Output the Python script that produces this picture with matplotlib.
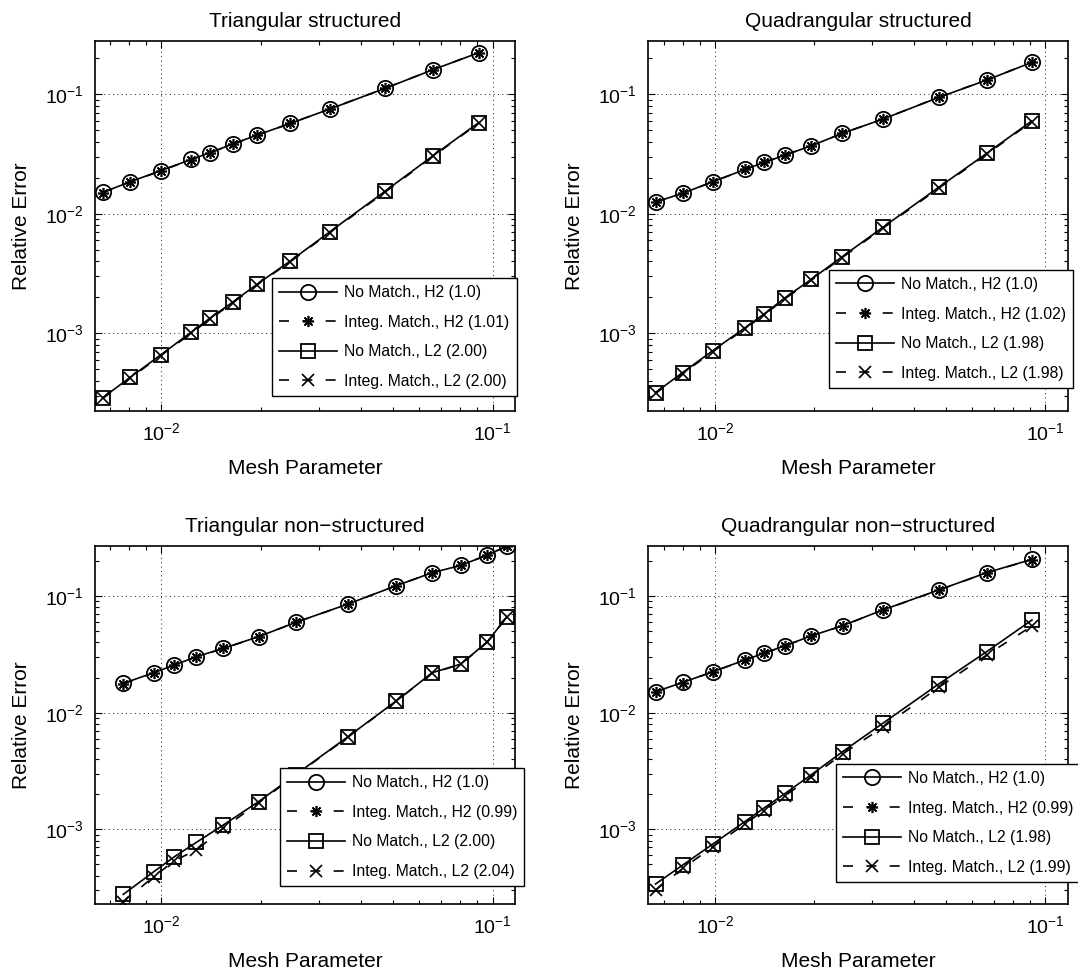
import numpy as np
import matplotlib
matplotlib.use('Agg')
import matplotlib.pyplot as plt

plt.rcParams['font.family'] = ['Liberation Sans', 'DejaVu Sans']
plt.rcParams['mathtext.fontset'] = 'custom'
plt.rcParams['mathtext.rm'] = 'Liberation Sans'

# ---- data (log-log convergence plots) ----
# triangular structured
h_tri_s = [0.00666, 0.00806, 0.00995, 0.0123, 0.0140, 0.0164, 0.0195, 0.0245,
           0.0322, 0.0473, 0.0661, 0.0907]
tri_s_h2_nm = [0.0151, 0.0185, 0.0229, 0.0284, 0.0323, 0.0382, 0.0455, 0.0569,
               0.0749, 0.1115, 0.160, 0.2215]
tri_s_h2_im = [0.0150, 0.0184, 0.0228, 0.0283, 0.0322, 0.0381, 0.0454, 0.0568,
               0.0750, 0.1117, 0.160, 0.2220]
tri_s_l2_nm = [2.90e-4, 4.29e-4, 6.59e-4, 1.02e-3, 1.334e-3, 1.816e-3, 2.584e-3,
               4.02e-3, 7.03e-3, 0.01537, 0.03053, 0.0576]
tri_s_l2_im = [2.86e-4, 4.22e-4, 6.50e-4, 1.00e-3, 1.31e-3, 1.79e-3, 2.55e-3,
               3.96e-3, 6.93e-3, 0.0151, 0.0301, 0.0570]

# quadrangular structured
h_quad_s = [0.00661, 0.00798, 0.00986, 0.01235, 0.01410, 0.01633, 0.01960,
            0.02430, 0.03228, 0.04763, 0.06657, 0.0911]
quad_s_h2_nm = [0.01252, 0.01479, 0.01851, 0.02347, 0.02685, 0.03093, 0.0370,
                0.04691, 0.06181, 0.09378, 0.1309, 0.1840]
quad_s_h2_im = [0.01250, 0.01476, 0.01849, 0.02345, 0.02684, 0.03092, 0.0370,
                0.04693, 0.06185, 0.09390, 0.1311, 0.1845]
quad_s_l2_nm = [3.19e-4, 4.69e-4, 7.16e-4, 1.115e-3, 1.451e-3, 1.986e-3, 2.827e-3,
                4.37e-3, 7.69e-3, 0.0166, 0.03193, 0.05949]
quad_s_l2_im = [3.14e-4, 4.60e-4, 7.02e-4, 1.095e-3, 1.425e-3, 1.950e-3, 2.775e-3,
                4.29e-3, 7.55e-3, 0.0163, 0.03140, 0.05860]

# triangular non-structured
h_tri_u = [0.00767, 0.00949, 0.01095, 0.01276, 0.01538, 0.01964, 0.02542, 0.0366,
           0.05117, 0.06577, 0.08022, 0.09647, 0.1106]
tri_u_h2_nm = [0.01784, 0.02203, 0.02562, 0.0302, 0.0356, 0.0448, 0.0594, 0.0854,
               0.1226, 0.1585, 0.1832, 0.2246, 0.2683]
tri_u_h2_im = [0.01770, 0.02190, 0.02550, 0.0301, 0.0355, 0.0447, 0.0593, 0.0853,
               0.1225, 0.1584, 0.1830, 0.2244, 0.2680]
tri_u_l2_nm = [2.77e-4, 4.34e-4, 5.83e-4, 7.74e-4, 1.089e-3, 1.726e-3, 2.94e-3,
               6.23e-3, 0.01259, 0.02203, 0.0261, 0.0406, 0.0665]
tri_u_l2_im = [2.40e-4, 3.93e-4, 5.39e-4, 6.65e-4, 1.02e-3, 1.69e-3, 2.90e-3,
               6.18e-3, 0.01252, 0.0219, 0.0260, 0.0404, 0.0662]

# quadrangular non-structured
h_quad_u = [0.00661, 0.00800, 0.00986, 0.01232, 0.01405, 0.01633, 0.01954,
            0.02436, 0.03224, 0.04763, 0.06657, 0.0913]
quad_u_h2_nm = [0.01513, 0.0182, 0.02246, 0.02828, 0.03226, 0.03753, 0.04542,
                0.0557, 0.0759, 0.1126, 0.1585, 0.2062]
quad_u_h2_im = [0.01508, 0.0181, 0.02240, 0.02822, 0.03220, 0.03745, 0.04535,
                0.0556, 0.0757, 0.1123, 0.1580, 0.2055]
quad_u_l2_nm = [3.40e-4, 4.95e-4, 7.49e-4, 1.163e-3, 1.514e-3, 2.035e-3, 2.922e-3,
                4.63e-3, 8.10e-3, 0.0176, 0.03334, 0.06227]
quad_u_l2_im = [3.02e-4, 4.63e-4, 7.10e-4, 1.111e-3, 1.445e-3, 1.944e-3, 2.791e-3,
                4.42e-3, 7.49e-3, 0.01649, 0.0312, 0.05533]

labels_tri_s = ['No Match., H2 (1.0)', 'Integ. Match., H2 (1.01)',
                'No Match., L2 (2.00)', 'Integ. Match., L2 (2.00)']
labels_quad_s = ['No Match., H2 (1.0)', 'Integ. Match., H2 (1.02)',
                 'No Match., L2 (1.98)', 'Integ. Match., L2 (1.98)']
labels_tri_u = ['No Match., H2 (1.0)', 'Integ. Match., H2 (0.99)',
                'No Match., L2 (2.00)', 'Integ. Match., L2 (2.04)']
labels_quad_u = ['No Match., H2 (1.0)', 'Integ. Match., H2 (0.99)',
                 'No Match., L2 (1.98)', 'Integ. Match., L2 (1.99)']

W, H = 1078, 975
fig = plt.figure(figsize=(W / 100, H / 100), dpi=100)

DASH = (0, (6.0, 8.0))
LW = 1.2


def panel(rect_px, h, h2_nm, h2_im, l2_nm, l2_im, labels, title, xlim, ylim, leg_xy):
    # rect_px = left, top, right, bottom in pixels
    l, t, r, b = rect_px
    ax = fig.add_axes([l / W, 1 - b / H, (r - l) / W, (b - t) / H])
    ax.plot(h, h2_nm, '-', color='k', lw=LW, marker='o', ms=11, mfc='none',
            mew=1.3, label=labels[0])
    ax.plot(h, h2_im, color='k', lw=LW, ls=DASH, marker=(8, 2, 0), ms=8,
            mew=1.2, label=labels[1])
    ax.plot(h, l2_nm, '-', color='k', lw=LW, marker='s', ms=9.5, mfc='none',
            mew=1.3, label=labels[2])
    ax.plot(h, l2_im, color='k', lw=LW, ls=DASH, marker='x', ms=8,
            mew=1.2, label=labels[3])
    ax.set_xscale('log')
    ax.set_yscale('log')
    ax.set_xlim(*xlim)
    ax.set_ylim(*ylim)
    ax.grid(True, which='major', color='0.1', lw=0.7, ls=(0, (1, 3.5)))
    ax.tick_params(which='both', direction='in', top=True, right=True,
                   width=0.8, labelsize=14, pad=8)
    ax.tick_params(which='major', length=5)
    ax.tick_params(which='minor', length=3)
    for s in ax.spines.values():
        s.set_linewidth(1.2)
    ax.set_title(title, fontsize=15, pad=10)
    ax.set_xlabel('Mesh Parameter', fontsize=15, labelpad=11)
    ax.set_ylabel('Relative Error', fontsize=15, labelpad=10)
    leg = ax.legend(loc='lower left', bbox_to_anchor=leg_xy, borderaxespad=0,
                    fontsize=11.3, numpoints=1, handlelength=3.7,
                    handletextpad=0.45, labelspacing=0.93, borderpad=0.45,
                    fancybox=False, framealpha=1, edgecolor='k')
    leg.get_frame().set_linewidth(1.0)
    return ax


panel((95, 41, 515, 410.7), h_tri_s, tri_s_h2_nm, tri_s_h2_im, tri_s_l2_nm,
      tri_s_l2_im, labels_tri_s, 'Triangular structured',
      (0.0063, 0.1169), (2.25e-4, 0.278), (0.422, 0.040))
panel((648, 41, 1068, 410.7), h_quad_s, quad_s_h2_nm, quad_s_h2_im, quad_s_l2_nm,
      quad_s_l2_im, labels_quad_s, 'Quadrangular structured',
      (0.00627, 0.1174), (2.25e-4, 0.278), (0.431, 0.062))
panel((95, 545.7, 515, 904), h_tri_u, tri_u_h2_nm, tri_u_h2_im, tri_u_l2_nm,
      tri_u_l2_im, labels_tri_u, 'Triangular non\u2212structured',
      (0.0063, 0.1169), (2.29e-4, 0.27), (0.440, 0.050))
panel((648, 545.7, 1068, 904), h_quad_u, quad_u_h2_nm, quad_u_h2_im, quad_u_l2_nm,
      quad_u_l2_im, labels_quad_u, 'Quadrangular non\u2212structured',
      (0.00627, 0.1174), (2.29e-4, 0.27), (0.447, 0.062))

fig.savefig('out.png', dpi=100)
